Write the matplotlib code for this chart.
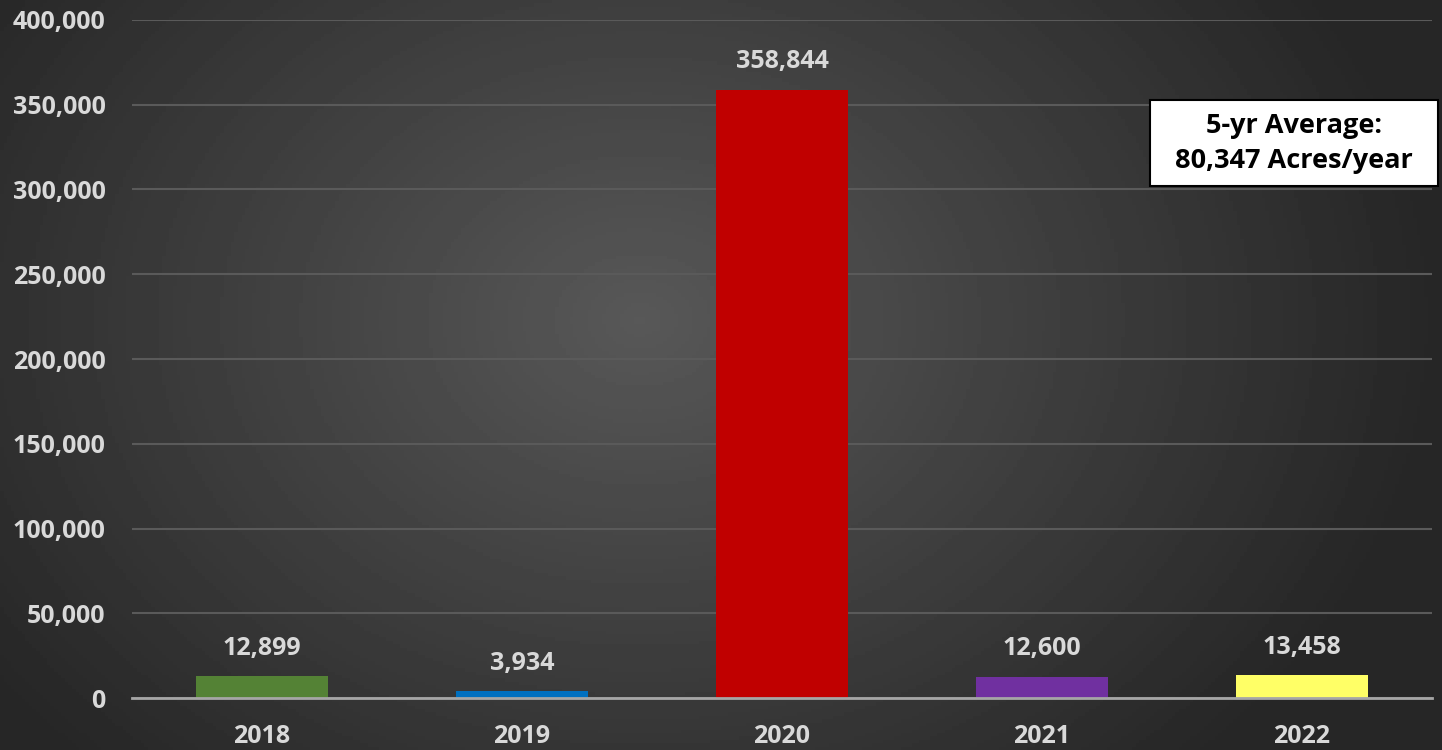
import matplotlib.pyplot as plt
from matplotlib.patches import Rectangle
import numpy as np

years = ['2018', '2019', '2020', '2021', '2022']
acres = [12899, 3934, 358844, 12600, 13458]
colors = ['#548235', '#0070C0', '#C00000', '#7030A0', '#FFFF66']
box_text = '5-yr Average:\n80,347 Acres/year'

plt.rcParams['font.family'] = ['Open Sans', 'DejaVu Sans']
plt.rcParams['font.weight'] = 'bold'

fig = plt.figure(figsize=(14.42, 7.5), dpi=100)

# radial gradient background
bg = fig.add_axes([0, 0, 1, 1], zorder=-10)
gx, gy = np.meshgrid(np.linspace(0, 1442, 400), np.linspace(0, 750, 220))
r = np.sqrt(((gx - 640) / 900) ** 2 + ((gy - 320) / 700) ** 2)
shade = np.clip(0.345 - 0.22 * r, 0.15, 0.35)
bg.imshow(shade, cmap='gray', vmin=0, vmax=1, extent=[0, 1, 0, 1], aspect='auto', origin='upper')
bg.axis('off')

ax = fig.add_axes([132 / 1442, 52 / 750, 1300 / 1442, 678 / 750])
ax.patch.set_alpha(0)
x = np.arange(len(years))
ax.bar(x, acres, width=0.505, color=colors, zorder=3)

for xi, v in zip(x, acres):
    ax.annotate(f'{v:,}', (xi, v), xytext=(0, 20), textcoords='offset points',
                ha='center', va='center', color='#d9d9d9', fontsize=18, fontweight='bold')

ax.set_xlim(-0.5, 4.5)
ax.set_ylim(0, 400000)
ax.set_yticks(np.arange(0, 400001, 50000))
ax.yaxis.set_major_formatter(plt.FuncFormatter(lambda v, p: f'{int(v):,}'))
ax.set_xticks(x)
ax.set_xticklabels(years)
ax.tick_params(axis='both', length=0, colors='#d9d9d9', labelsize=18)
for lab in ax.get_xticklabels() + ax.get_yticklabels():
    lab.set_fontweight('bold')
ax.tick_params(axis='y', pad=19)
ax.tick_params(axis='x', pad=19)
ax.grid(axis='y', color='#5a5a5a', linewidth=1.5, zorder=0)
for s in ['top', 'right', 'left']:
    ax.spines[s].set_visible(False)
ax.spines['bottom'].set_color('#a6a6a6')
ax.spines['bottom'].set_linewidth(2)
ax.spines['bottom'].set_zorder(4)

# average box
ax.add_patch(Rectangle((0.783, 0.755), 0.2215, 0.127, transform=ax.transAxes, facecolor='white',
                       edgecolor='black', linewidth=1.5, clip_on=False, zorder=6))
ax.text(0.8935, 0.8175, box_text, transform=ax.transAxes, ha='center', va='center',
        fontsize=19.5, fontweight='bold', color='black', linespacing=1.45, zorder=7)

fig.savefig('out.png', dpi=100)
